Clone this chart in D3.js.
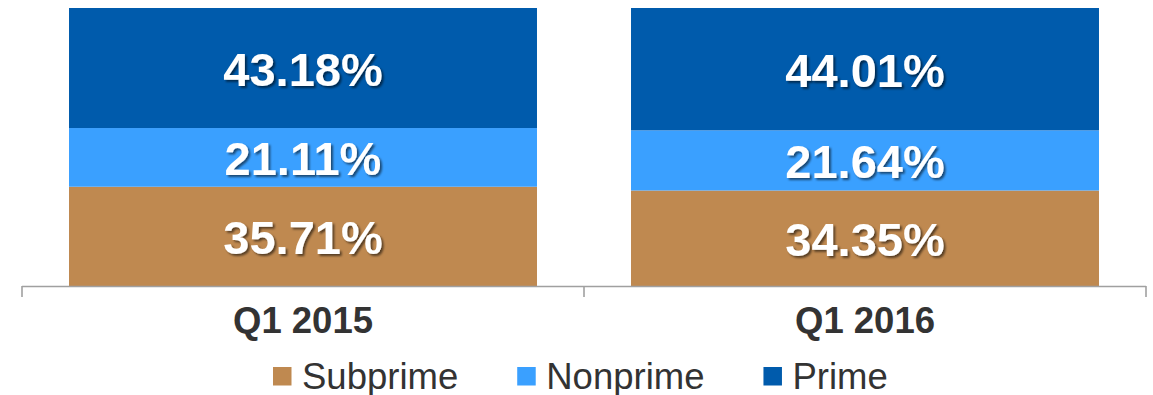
<!DOCTYPE html>
<html>
<head>
<meta charset="utf-8">
<script src="https://cdn.jsdelivr.net/npm/d3@7"></script>
<style>
  html, body { margin: 0; padding: 0; background: #fff; }
  svg { display: block; }
  text { font-family: "Liberation Sans", Arial, sans-serif; }
</style>
</head>
<body>
<svg id="chart" width="1153" height="395"></svg>
<script>
const categories = ["Q1 2015", "Q1 2016"];
const seriesNames = ["Subprime", "Nonprime", "Prime"];
const subprime = [35.71, 34.35];
const nonprime = [21.11, 21.64];
const prime = [43.18, 44.01];
const colors = ["#BF8950", "#3AA0FF", "#005BAC"];

const svg = d3.select("#chart");

const defs = svg.append("defs");
const f = defs.append("filter").attr("id", "shadow").attr("x", "-10%").attr("y", "-10%").attr("width", "130%").attr("height", "140%");
f.append("feDropShadow").attr("dx", 2).attr("dy", 2).attr("stdDeviation", 1.3)
  .attr("flood-color", "#000").attr("flood-opacity", 0.55);

const plotLeft = 22, plotRight = 1146, plotTop = 8, plotBottom = 286;
const pad = 0.1673;
const x = d3.scaleBand().domain(categories).range([plotLeft, plotRight])
  .paddingInner(pad).paddingOuter(pad / 2);
const y = d3.scaleLinear().domain([0, 100]).range([plotBottom, plotTop]);

const rows = categories.map((c, i) => ({ cat: c, Subprime: subprime[i], Nonprime: nonprime[i], Prime: prime[i] }));
const stack = d3.stack().keys(seriesNames)(rows);

const gBars = svg.append("g");
stack.forEach((layer, si) => {
  gBars.selectAll(null).data(layer).enter().append("rect")
    .attr("x", d => x(d.data.cat))
    .attr("width", x.bandwidth())
    .attr("y", d => y(d[1]))
    .attr("height", d => y(d[0]) - y(d[1]))
    .attr("fill", colors[si]);
});

stack.forEach((layer, si) => {
  gBars.selectAll(null).data(layer).enter().append("text")
    .attr("x", d => x(d.data.cat) + x.bandwidth() / 2)
    .attr("y", d => (y(d[0]) + y(d[1])) / 2 + 18)
    .attr("text-anchor", "middle")
    .attr("fill", "#fff")
    .attr("font-weight", "bold")
    .attr("font-size", 47)
    .attr("filter", "url(#shadow)")
    .text(d => (d[1] - d[0]).toFixed(2) + "%");
});

// axis
const step = x.step();
const tickPos = [plotLeft].concat(categories.map(c => x(c) - step * pad / 2 + step));
const gAxis = svg.append("g");
gAxis.append("line").attr("x1", plotLeft).attr("x2", plotRight).attr("y1", plotBottom + 0.5).attr("y2", plotBottom + 0.5)
  .attr("stroke", "#A0A0A0").attr("stroke-width", 1.6);
gAxis.selectAll(null).data(tickPos).enter().append("line")
  .attr("x1", d => d).attr("x2", d => d)
  .attr("y1", plotBottom).attr("y2", plotBottom + 11)
  .attr("stroke", "#A0A0A0").attr("stroke-width", 1.6);
gAxis.selectAll(null).data(categories).enter().append("text")
  .attr("x", d => x(d) + x.bandwidth() / 2)
  .attr("y", 333)
  .attr("text-anchor", "middle")
  .attr("font-weight", "bold")
  .attr("font-size", 36.5)
  .attr("fill", "#333")
  .text(d => d);

// legend
const gLeg = svg.append("g");
let lx = 273;
seriesNames.forEach((name, i) => {
  gLeg.append("rect").attr("x", lx).attr("y", 367).attr("width", 18.5).attr("height", 18.5).attr("fill", colors[i]);
  const t = gLeg.append("text").attr("x", lx + 29).attr("y", 388.5)
    .attr("font-size", 36.5).attr("fill", "#333").text(name);
  lx += 29 + t.node().getComputedTextLength() + 59;
});
</script>
</body>
</html>
